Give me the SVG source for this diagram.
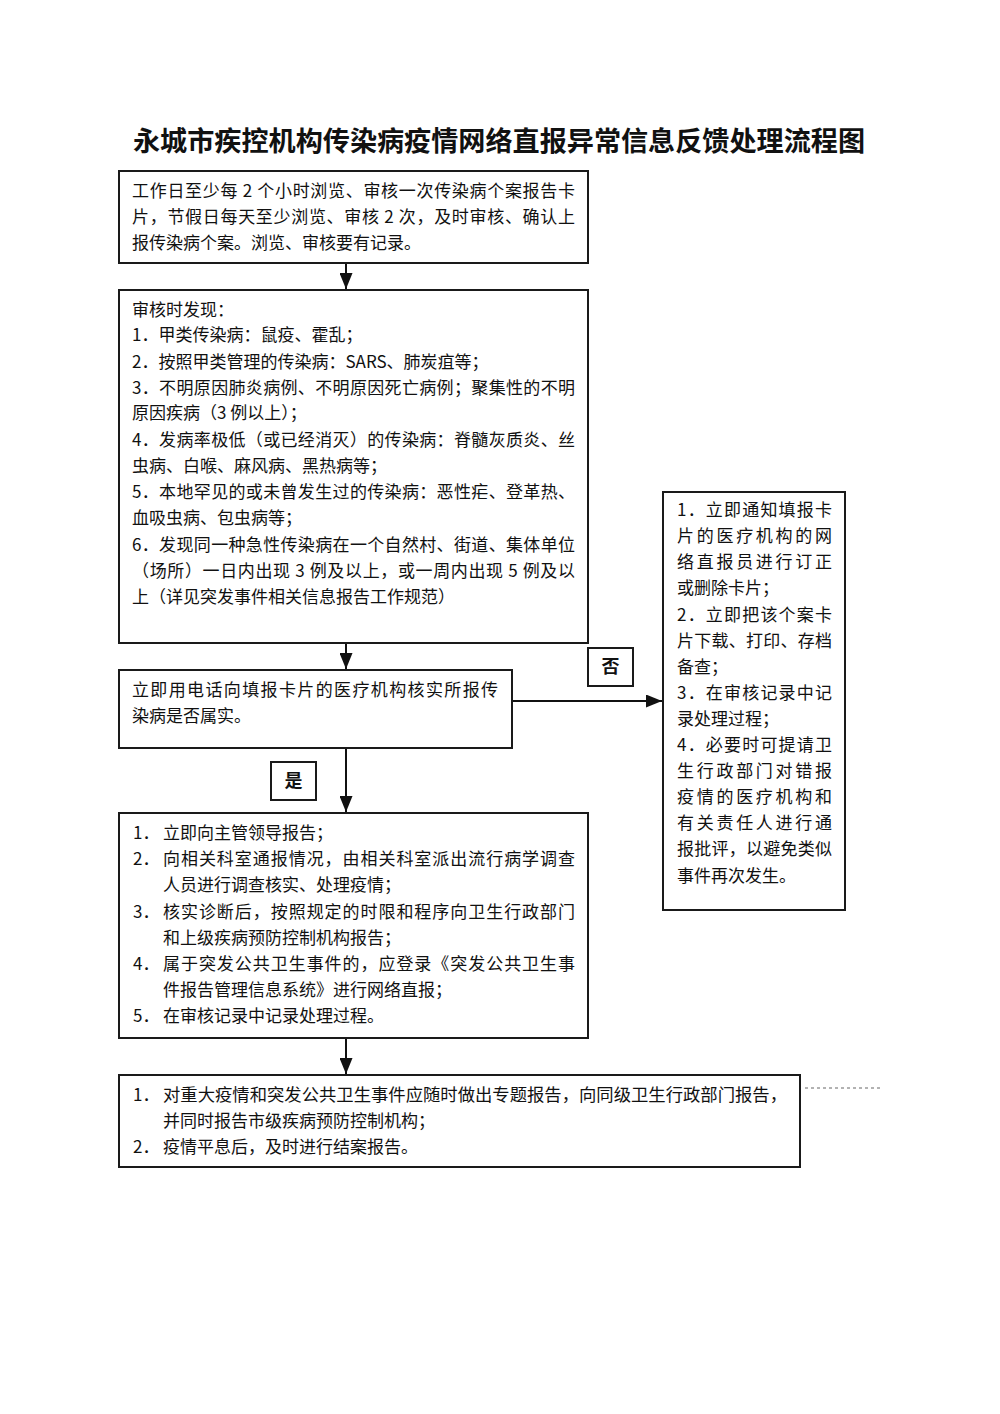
<svg xmlns="http://www.w3.org/2000/svg" width="1000" height="1414" viewBox="0 0 1000 1414">
<style>
.bg{fill:#ffffff}
.box{fill:#ffffff;stroke:#1a1a1a;stroke-width:2}
.t{font-family:"Noto Sans CJK SC","Noto Sans",sans-serif;font-size:17px;fill:#111}
.title{font-family:"Noto Sans CJK SC","Noto Sans",sans-serif;font-size:27px;font-weight:bold;fill:#111;text-anchor:middle}
.lbl{font-family:"Noto Sans CJK SC","Noto Sans",sans-serif;font-size:18px;font-weight:bold;fill:#111;text-anchor:middle}
.con{stroke:#111;stroke-width:2;fill:none}
.dot{stroke:#666;stroke-width:1;stroke-dasharray:3 3;fill:none}
</style>
<defs>
<marker id="ah" viewBox="0 0 16 13" refX="16" refY="6.5" markerWidth="16" markerHeight="13" markerUnits="userSpaceOnUse" orient="auto">
<path d="M0,0 L16,6.5 L0,13 Z" fill="#111"/>
</marker>
</defs>
<rect class="bg" x="0" y="0" width="1000" height="1414"/>
<text class="title" x="499" y="151" textLength="732" lengthAdjust="spacingAndGlyphs">永城市疾控机构传染病疫情网络直报异常信息反馈处理流程图</text>

<g id="connectors">
<line class="con" x1="346" y1="263" x2="346" y2="289" marker-end="url(#ah)"/>
<line class="con" x1="346" y1="643" x2="346" y2="669" marker-end="url(#ah)"/>
<line class="con" x1="512" y1="701" x2="662" y2="701" marker-end="url(#ah)"/>
<line class="con" x1="346" y1="748" x2="346" y2="812" marker-end="url(#ah)"/>
<line class="con" x1="346" y1="1038" x2="346" y2="1074" marker-end="url(#ah)"/>
<line class="dot" x1="805" y1="1088" x2="882" y2="1088"/>
</g>

<g id="node-no">
<rect class="box" x="588" y="648" width="45" height="38"/>
<text class="lbl" x="610.5" y="673">否</text>
</g>
<g id="node-yes">
<rect class="box" x="271" y="762" width="45" height="38"/>
<text class="lbl" x="293.5" y="787">是</text>
</g>

<g id="node-browse">
<rect class="box" x="119" y="171" width="469" height="92"/>
<text class="t" x="132" y="197" textLength="443" lengthAdjust="spacing">工作日至少每 2 个小时浏览、审核一次传染病个案报告卡</text>
<text class="t" x="132" y="223" textLength="443" lengthAdjust="spacing">片，节假日每天至少浏览、审核 2 次，及时审核、确认上</text>
<text class="t" x="132" y="249">报传染病个案。浏览、审核要有记录。</text>
</g>

<g id="node-findings">
<rect class="box" x="119" y="290" width="469" height="353"/>
<text class="t" x="132" y="316">审核时发现：</text>
<text class="t" x="132" y="341">1．甲类传染病：鼠疫、霍乱；</text>
<text class="t" x="132" y="368">2．按照甲类管理的传染病：SARS、肺炭疽等；</text>
<text class="t" x="132" y="394" textLength="443" lengthAdjust="spacing">3．不明原因肺炎病例、不明原因死亡病例；聚集性的不明</text>
<text class="t" x="132" y="419">原因疾病（3 例以上）；</text>
<text class="t" x="132" y="446" textLength="443" lengthAdjust="spacing">4．发病率极低（或已经消灭）的传染病：脊髓灰质炎、丝</text>
<text class="t" x="132" y="472">虫病、白喉、麻风病、黑热病等；</text>
<text class="t" x="132" y="498" textLength="443" lengthAdjust="spacing">5．本地罕见的或未曾发生过的传染病：恶性疟、登革热、</text>
<text class="t" x="132" y="524">血吸虫病、包虫病等；</text>
<text class="t" x="132" y="551" textLength="443" lengthAdjust="spacing">6．发现同一种急性传染病在一个自然村、街道、集体单位</text>
<text class="t" x="132" y="577" textLength="443" lengthAdjust="spacing">（场所）一日内出现 3 例及以上，或一周内出现 5 例及以</text>
<text class="t" x="132" y="603">上（详见突发事件相关信息报告工作规范）</text>
</g>

<g id="node-verify">
<rect class="box" x="119" y="670" width="393" height="78"/>
<text class="t" x="132" y="696" textLength="366" lengthAdjust="spacing">立即用电话向填报卡片的医疗机构核实所报传</text>
<text class="t" x="132" y="722">染病是否属实。</text>
</g>

<g id="node-false">
<rect class="box" x="663" y="492" width="182" height="418"/>
<text class="t" x="677" y="516" textLength="155" lengthAdjust="spacing">1．立即通知填报卡</text>
<text class="t" x="677" y="542" textLength="155" lengthAdjust="spacing">片的医疗机构的网</text>
<text class="t" x="677" y="568" textLength="155" lengthAdjust="spacing">络直报员进行订正</text>
<text class="t" x="677" y="594">或删除卡片；</text>
<text class="t" x="677" y="621" textLength="155" lengthAdjust="spacing">2．立即把该个案卡</text>
<text class="t" x="677" y="647" textLength="155" lengthAdjust="spacing">片下载、打印、存档</text>
<text class="t" x="677" y="673">备查；</text>
<text class="t" x="677" y="699" textLength="155" lengthAdjust="spacing">3．在审核记录中记</text>
<text class="t" x="677" y="725">录处理过程；</text>
<text class="t" x="677" y="751" textLength="155" lengthAdjust="spacing">4．必要时可提请卫</text>
<text class="t" x="677" y="777" textLength="155" lengthAdjust="spacing">生行政部门对错报</text>
<text class="t" x="677" y="803" textLength="155" lengthAdjust="spacing">疫情的医疗机构和</text>
<text class="t" x="677" y="829" textLength="155" lengthAdjust="spacing">有关责任人进行通</text>
<text class="t" x="677" y="855" textLength="155" lengthAdjust="spacing">报批评，以避免类似</text>
<text class="t" x="677" y="882">事件再次发生。</text>
</g>

<g id="node-true">
<rect class="box" x="119" y="813" width="469" height="225"/>
<text class="t" x="133" y="839">1．</text><text class="t" x="163" y="839">立即向主管领导报告；</text>
<text class="t" x="133" y="865">2．</text><text class="t" x="163" y="865" textLength="412" lengthAdjust="spacing">向相关科室通报情况，由相关科室派出流行病学调查</text>
<text class="t" x="163" y="891">人员进行调查核实、处理疫情；</text>
<text class="t" x="133" y="918">3．</text><text class="t" x="163" y="918" textLength="412" lengthAdjust="spacing">核实诊断后，按照规定的时限和程序向卫生行政部门</text>
<text class="t" x="163" y="944">和上级疾病预防控制机构报告；</text>
<text class="t" x="133" y="970">4．</text><text class="t" x="163" y="970" textLength="412" lengthAdjust="spacing">属于突发公共卫生事件的，应登录《突发公共卫生事</text>
<text class="t" x="163" y="996">件报告管理信息系统》进行网络直报；</text>
<text class="t" x="133" y="1022">5．</text><text class="t" x="163" y="1022">在审核记录中记录处理过程。</text>
</g>

<g id="node-report">
<rect class="box" x="119" y="1075" width="681" height="92"/>
<text class="t" x="133" y="1101">1．</text><text class="t" x="163" y="1101" textLength="624" lengthAdjust="spacingAndGlyphs">对重大疫情和突发公共卫生事件应随时做出专题报告，向同级卫生行政部门报告，</text>
<text class="t" x="163" y="1127">并同时报告市级疾病预防控制机构；</text>
<text class="t" x="133" y="1153">2．</text><text class="t" x="163" y="1153">疫情平息后，及时进行结案报告。</text>
</g>
</svg>
